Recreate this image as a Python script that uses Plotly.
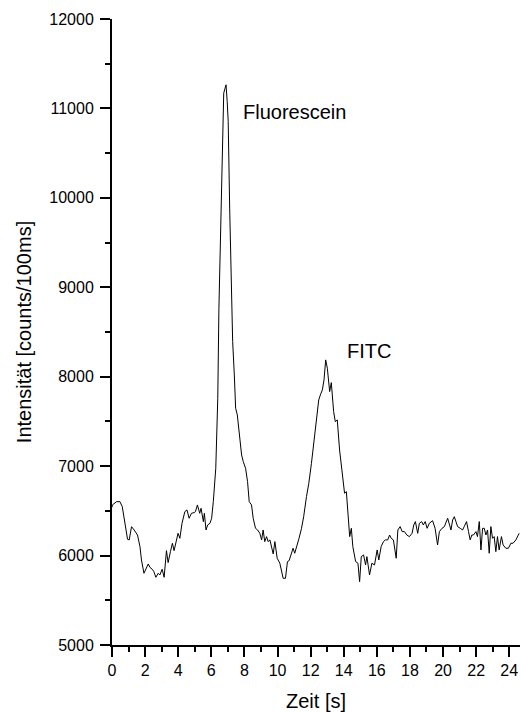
import plotly.graph_objects as go

# Elution trace: time [s] and detector intensity [counts/100ms]
zeit = [
    0.00, 0.02, 0.28, 0.48, 0.62, 0.78, 0.94, 1.04, 1.18, 1.34, 1.54, 1.69, 1.78, 1.93,
    2.05, 2.19, 2.29, 2.43, 2.53, 2.65, 2.79, 2.89, 3.03, 3.15, 3.29, 3.39, 3.53, 3.65,
    3.75, 3.89, 3.99, 4.10, 4.23, 4.40, 4.53, 4.66, 4.80, 4.96, 5.04, 5.16, 5.30, 5.38,
    5.52, 5.58, 5.68, 5.78, 5.92, 6.02, 6.12, 6.27, 6.39, 6.46, 6.58, 6.66, 6.75, 6.83,
    6.89, 6.96, 7.02, 7.11, 7.19, 7.29, 7.39, 7.47, 7.57, 7.69, 7.83, 7.93, 8.07, 8.19,
    8.29, 8.43, 8.53, 8.67, 8.80, 8.93, 9.04, 9.13, 9.23, 9.34, 9.43, 9.54, 9.64, 9.74,
    9.84, 9.98, 10.14, 10.24, 10.34, 10.48, 10.60, 10.70, 10.84, 10.94, 11.04, 11.14,
    11.30, 11.45, 11.58, 11.75, 11.89, 12.05, 12.19, 12.35, 12.49, 12.59, 12.71, 12.81,
    12.91, 13.01, 13.15, 13.25, 13.39, 13.49, 13.61, 13.75, 13.92, 14.05, 14.16, 14.25,
    14.36, 14.46, 14.55, 14.72, 14.86, 14.96, 15.06, 15.20, 15.32, 15.40, 15.56, 15.70,
    15.86, 16.02, 16.12, 16.26, 16.40, 16.52, 16.66, 16.77, 16.87, 17.00, 17.17, 17.27,
    17.41, 17.53, 17.67, 17.81, 17.97, 18.13, 18.23, 18.33, 18.47, 18.57, 18.71, 18.81,
    18.92, 19.04, 19.17, 19.37, 19.52, 19.67, 19.78, 19.94, 20.08, 20.28, 20.38, 20.48,
    20.58, 20.68, 20.78, 20.88, 21.04, 21.18, 21.28, 21.42, 21.54, 21.64, 21.74, 21.84,
    21.99, 22.08, 22.19, 22.29, 22.39, 22.49, 22.59, 22.69, 22.79, 22.89, 22.99, 23.09,
    23.19, 23.29, 23.39, 23.53, 23.63, 23.79, 23.95, 24.10, 24.23, 24.40, 24.60,
]
intensitaet = [
    6540, 6566, 6603, 6603, 6547, 6380, 6182, 6175, 6323, 6286, 6230, 6100, 5951, 5802,
    5858, 5906, 5869, 5847, 5820, 5757, 5802, 5783, 5847, 5757, 6055, 5921, 6044, 6138,
    6055, 6193, 6249, 6193, 6361, 6491, 6510, 6417, 6473, 6480, 6491, 6566, 6473, 6529,
    6380, 6473, 6286, 6342, 6361, 6417, 6603, 6976, 7759, 8766, 9885, 10630, 11171, 11227,
    11264, 11077, 10854, 9885, 9139, 8393, 8020, 7648, 7573, 7349, 7125, 7051, 6976, 6827,
    6603, 6566, 6417, 6305, 6286, 6249, 6175, 6286, 6156, 6212, 6156, 6175, 6082, 6018,
    6156, 5970, 5914, 5839, 5746, 5746, 5932, 5943, 6026, 6082, 6026, 6082,
    6193, 6305, 6435, 6659, 6808, 7032, 7256, 7480, 7740, 7797, 7853, 7964,
    8188, 8095, 7834, 7934, 7610, 7498, 7517, 7181, 6920, 6697, 6715, 6473,
    6212, 6305, 6100, 5932, 5914, 5708, 5988, 6007, 5895, 5988, 5783, 5914,
    5895, 6063, 5951, 6100, 6156, 6175, 6175, 6230, 6193, 6175, 5970, 6286,
    6324, 6268, 6268, 6230, 6212, 6249, 6342, 6380, 6249, 6361, 6380, 6342,
    6380, 6305, 6361, 6390, 6305, 6119, 6268, 6305, 6324, 6417, 6342, 6286,
    6398, 6435, 6380, 6324, 6305, 6286, 6324, 6380, 6268, 6175, 6230, 6230,
    6268, 6212, 6380, 6063, 6305, 6305, 6230, 6286, 6026, 6324, 6193, 6212,
    6044, 6212, 6063, 6212, 6119, 6082, 6082, 6138, 6138, 6175, 6249,
]

# Peak labels
peak_names = ["Fluorescein", "FITC"]
peak_label_x = [7.80, 14.05]
peak_label_y = [10960, 8290]

FONT = "Liberation Sans, Arial, sans-serif"

fig = go.Figure()
fig.add_trace(go.Scatter(
    x=zeit, y=intensitaet, mode="lines",
    line=dict(color="black", width=1),
    showlegend=False, hoverinfo="skip",
))

for name, lx, ly in zip(peak_names, peak_label_x, peak_label_y):
    fig.add_annotation(
        x=lx, y=ly, text=name, showarrow=False,
        xanchor="left", yanchor="middle",
        font=dict(family=FONT, size=20, color="black"),
    )

axis_common = dict(
    showgrid=False, zeroline=False, showline=True,
    linecolor="black", linewidth=2,
    ticks="outside", ticklen=10, tickwidth=2, tickcolor="black",
    tickfont=dict(family=FONT, size=16, color="black"),
    mirror=False,
)

fig.update_xaxes(
    range=[0, 24.65], dtick=2, tick0=0,
    minor=dict(ticks="outside", ticklen=5, tickwidth=2, tickcolor="black", dtick=1),
    title=dict(text="Zeit [s]", font=dict(family=FONT, size=20, color="black"), standoff=16),
    **axis_common,
)
fig.update_yaxes(
    range=[5000, 12000], dtick=1000, tick0=5000, tickformat="d",
    ticklabelstandoff=3,
    minor=dict(ticks="outside", ticklen=5, tickwidth=2, tickcolor="black", dtick=500),
    title=dict(text="Intensität [counts/100ms]", font=dict(family=FONT, size=20, color="black"), standoff=12),
    **axis_common,
)

fig.update_layout(
    width=521, height=713,
    margin=dict(l=112, r=1, t=19, b=68, pad=0),
    paper_bgcolor="white", plot_bgcolor="white",
)

fig.write_html("out.html")
